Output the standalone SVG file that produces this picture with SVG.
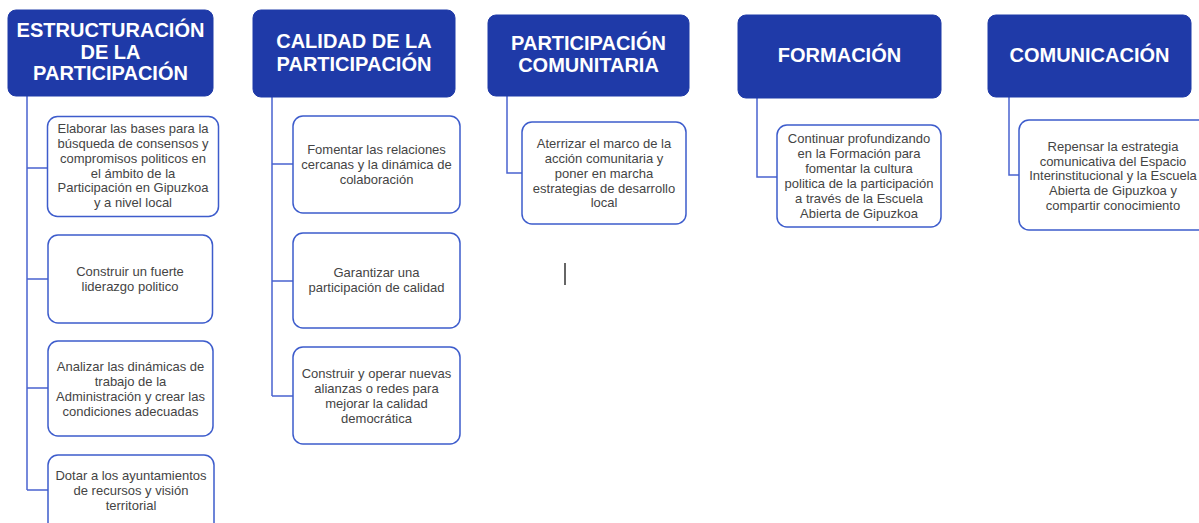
<svg xmlns="http://www.w3.org/2000/svg" width="1199" height="523" viewBox="0 0 1199 523">
<style>
.hdr{fill:#1f3aa8;stroke:#1f3aa8;stroke-width:1}
.ht{font-family:"Liberation Sans",Arial,sans-serif;font-weight:bold;font-size:20px;fill:#ffffff;text-anchor:middle}
.box{fill:#ffffff;stroke:#3d5ccc;stroke-width:1.5}
.bt{font-family:"Liberation Sans",Arial,sans-serif;font-size:13px;fill:#444444;text-anchor:middle}
.con{fill:none;stroke:#4a63d0;stroke-width:1.5}
</style>
<rect width="1199" height="523" fill="#ffffff"/>
<g id="connectors">
<path class="con" d="M27 96V490M27 168H47M27 279H48M27 388H48M27 490H48"/>
<path class="con" d="M272 97V396M272 164H293M272 281H293M272 396H293"/>
<path class="con" d="M507 96V173H522"/>
<path class="con" d="M757 98V177H777"/>
<path class="con" d="M1009 97V175H1019"/>
</g>
<g id="h1"><rect class="hdr" x="8" y="10" width="205" height="86" rx="8"/>
<text class="ht" x="110.5" y="37">ESTRUCTURACIÓN</text><text class="ht" x="110.5" y="58.5">DE LA</text><text class="ht" x="110.5" y="80">PARTICIPACIÓN</text></g>
<g id="h2"><rect class="hdr" x="253" y="10" width="202" height="87" rx="8"/>
<text class="ht" x="354" y="48">CALIDAD DE LA</text><text class="ht" x="354" y="71">PARTICIPACIÓN</text></g>
<g id="h3"><rect class="hdr" x="488" y="15" width="201" height="81" rx="8"/>
<text class="ht" x="588.5" y="50">PARTICIPACIÓN</text><text class="ht" x="588.5" y="72">COMUNITARIA</text></g>
<g id="h4"><rect class="hdr" x="738" y="15" width="203" height="83" rx="8"/>
<text class="ht" x="839.5" y="62">FORMACIÓN</text></g>
<g id="h5"><rect class="hdr" x="988" y="15" width="203" height="82" rx="8"/>
<text class="ht" x="1089.5" y="62">COMUNICACIÓN</text></g>
<g id="c11"><rect class="box" x="47.5" y="116.5" width="171" height="100" rx="10"/>
<text class="bt" x="133" y="133">Elaborar las bases para la</text><text class="bt" x="133" y="148">búsqueda de consensos y</text><text class="bt" x="133" y="163">compromisos politicos en</text><text class="bt" x="133" y="177.5">el ámbito de la</text><text class="bt" x="133" y="192">Participación en Gipuzkoa</text><text class="bt" x="133" y="206.5">y a nivel local</text></g>
<g id="c12"><rect class="box" x="48" y="235" width="164.5" height="88" rx="10"/>
<text class="bt" x="130" y="276">Construir un fuerte</text><text class="bt" x="130" y="291">liderazgo politico</text></g>
<g id="c13"><rect class="box" x="48" y="341" width="165" height="95" rx="10"/>
<text class="bt" x="130.5" y="371">Analizar las dinámicas de</text><text class="bt" x="130.5" y="386">trabajo de la</text><text class="bt" x="130.5" y="401">Administración y crear las</text><text class="bt" x="130.5" y="416">condiciones adecuadas</text></g>
<g id="c14"><rect class="box" x="48" y="455" width="166" height="80" rx="10"/>
<text class="bt" x="131" y="480">Dotar a los ayuntamientos</text><text class="bt" x="131" y="495">de recursos y visión</text><text class="bt" x="131" y="510">territorial</text></g>
<g id="c21"><rect class="box" x="293" y="116" width="167" height="97" rx="10"/>
<text class="bt" x="376.5" y="154">Fomentar las relaciones</text><text class="bt" x="376.5" y="169">cercanas y la dinámica de</text><text class="bt" x="376.5" y="183.5">colaboración</text></g>
<g id="c22"><rect class="box" x="293" y="233" width="167" height="95" rx="10"/>
<text class="bt" x="376.5" y="277">Garantizar una</text><text class="bt" x="376.5" y="292">participación de calidad</text></g>
<g id="c23"><rect class="box" x="293" y="347" width="167" height="97" rx="10"/>
<text class="bt" x="376.5" y="378">Construir y operar nuevas</text><text class="bt" x="376.5" y="393">alianzas o redes para</text><text class="bt" x="376.5" y="408">mejorar la calidad</text><text class="bt" x="376.5" y="422.5">democrática</text></g>
<g id="c31"><rect class="box" x="522" y="122" width="164" height="102" rx="10"/>
<text class="bt" x="604" y="148">Aterrizar el marco de la</text><text class="bt" x="604" y="163">acción comunitaria y</text><text class="bt" x="604" y="178">poner en marcha</text><text class="bt" x="604" y="192.5">estrategias de desarrollo</text><text class="bt" x="604" y="207">local</text></g>
<g id="c41"><rect class="box" x="777" y="125" width="164" height="102" rx="10"/>
<text class="bt" x="859" y="143">Continuar profundizando</text><text class="bt" x="859" y="158">en la Formación para</text><text class="bt" x="859" y="173">fomentar la cultura</text><text class="bt" x="859" y="188">politica de la participación</text><text class="bt" x="859" y="203">a través de la Escuela</text><text class="bt" x="859" y="218">Abierta de Gipuzkoa</text></g>
<g id="c51"><rect class="box" x="1019" y="120" width="190" height="110" rx="10"/>
<text class="bt" x="1113" y="150.5">Repensar la estrategia</text><text class="bt" x="1113" y="165.5">comunicativa del Espacio</text><text class="bt" x="1113" y="180">Interinstitucional y la Escuela</text><text class="bt" x="1113" y="195">Abierta de Gipuzkoa y</text><text class="bt" x="1113" y="210">compartir conocimiento</text></g>
<line x1="565" y1="263" x2="565" y2="285" stroke="#333333" stroke-width="1.5"/>
</svg>
